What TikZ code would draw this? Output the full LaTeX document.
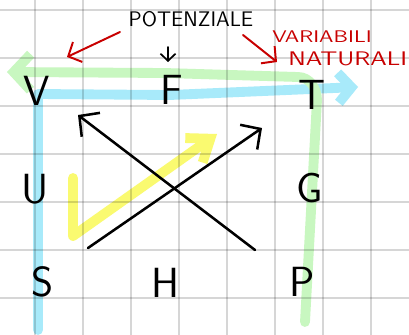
\documentclass[tikz,border=0pt]{standalone}
\usepackage{tikz}
\usetikzlibrary{arrows.meta,positioning}
\definecolor{hlblue}{RGB}{168,234,250}
\definecolor{hlgreen}{RGB}{200,247,192}
\definecolor{hlyellow}{RGB}{250,250,112}
\definecolor{penred}{RGB}{200,0,0}

\begin{document}
\begin{tikzpicture}[
  x=0.025cm, y=-0.025cm,
  >={Straight Barb[length=3.6mm,width=7.5mm]},
  pen/.style={line width=1.8pt, line cap=round, line join=round},
  redpen/.style={pen, draw=penred, line width=1.4pt},
  hilite/.style={line width=7pt, line cap=round, line join=round},
  var/.style={font=\sffamily\fontsize{30}{30}\selectfont, inner sep=0pt},
  note/.style={font=\sffamily\fontsize{15}{15}\selectfont, inner sep=0pt},
  rednote/.style={note, text=penred, font=\sffamily\fontsize{12}{12}\selectfont,
    xscale=1.2, transform shape},
  gridline/.style={draw=black, draw opacity=0.16, line width=0.9pt}
]
\clip (0,0) rectangle (409,335);
\fill[white] (0,0) rectangle (409,335);

% highlighter strokes
\draw[hilite, hlblue, -{Straight Barb[length=3.3mm,width=7.5mm]}]
  (38,330) -- (38,94) -- (170,95) -- (358,87);
\draw[hilite, hlgreen, -{Straight Barb[length=4.2mm,width=9mm]}]
  (305,322) -- (317,100) to[out=90,in=0] (298,77) -- (165,73) -- (7,72);
\draw[hilite, hlyellow, -{Straight Barb[length=5mm,width=7.5mm]}]
  (73,178) -- (73,236) -- (217,134);

% squared paper
\foreach \gx in {-13,35,...,419} \draw[gridline] (\gx,0) -- (\gx,335);
\foreach \gy in {10,58,...,346} \draw[gridline] (0,\gy) -- (409,\gy);

% the square
\node[var] (V) at (37,91) {V};
\node[var] (F) at (172,90) {F};
\node[var] (T) at (312,95) {T};
\node[var] (U) at (35,189) {U};
\node[var] (G) at (310,188) {G};
\node[var] (S) at (43,282) {S};
\node[var] (H) at (165,283) {H};
\node[var] (P) at (302,282) {P};

\coordinate (ssw) at (255,250);
\coordinate (nnw) at (78,115);
\coordinate (sse) at (88,248);
\coordinate (nne) at (262,128);
\draw[pen, ->] (ssw) -- (nnw);
\draw[pen, ->] (sse) -- (nne);

% labels
\node[note] (pot) at (191,19) {POTENZIALE};
\node[rednote, xscale=1.1] (var) at (322,37) {VARIABILI};
\node[rednote, anchor=west, font=\sffamily\fontsize{14}{14}\selectfont, xscale=1.08] (nat) at (288,59) {NATURALI};

\coordinate (potdn) at (168,47);
\coordinate (fup) at (168,62);
\draw[pen, line width=1.2pt, -{Straight Barb[length=1.8mm,width=3.8mm]}] (potdn) -- (fup);

\coordinate (potl) at (120,32);
\coordinate (vpt) at (67,57);
\coordinate (potr) at (243,35);
\coordinate (tpt) at (277,62);
\draw[redpen, -{Straight Barb[length=2.6mm,width=5.5mm]}] (potl) -- (vpt);
\draw[redpen, -{Straight Barb[length=2.6mm,width=5.5mm]}] (potr) -- (tpt);
\end{tikzpicture}
\end{document}
